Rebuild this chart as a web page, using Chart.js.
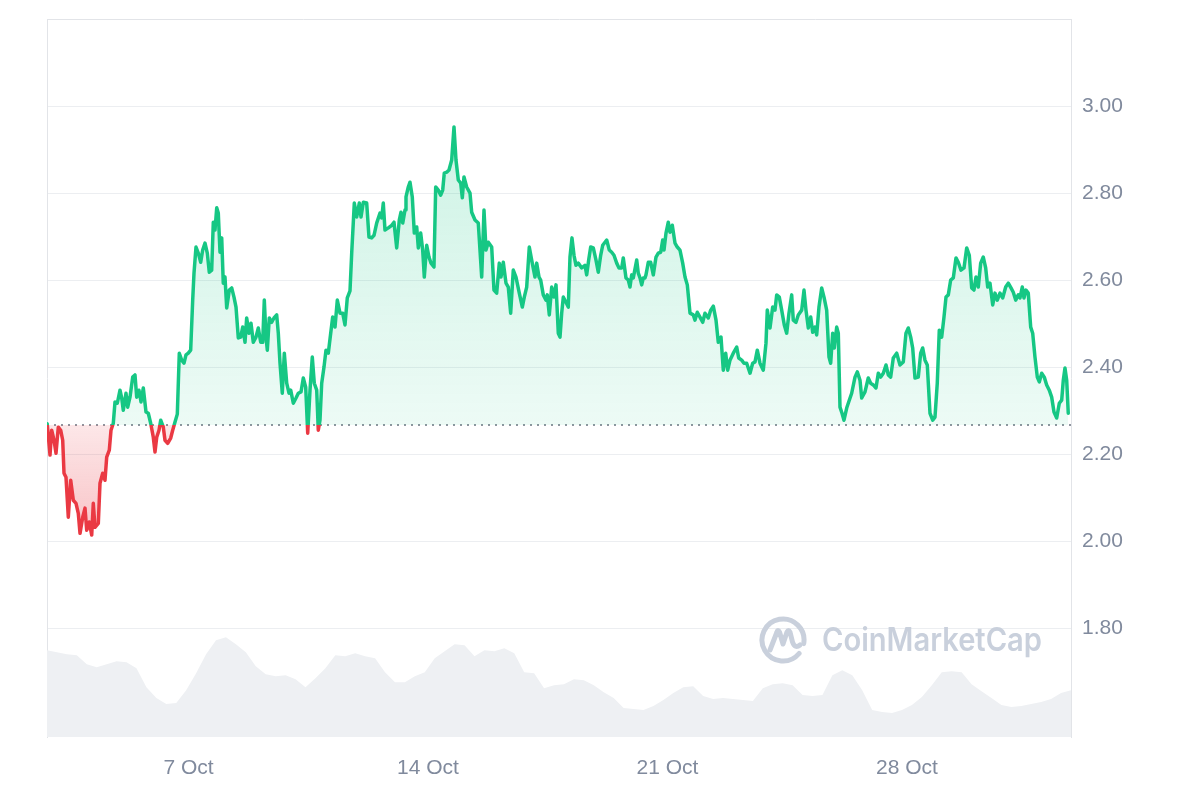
<!DOCTYPE html>
<html>
<head>
<meta charset="utf-8">
<script src="https://cdn.jsdelivr.net/npm/chart.js@4.4.1/dist/chart.umd.min.js"></script>
<style>
html,body{margin:0;padding:0;background:#ffffff;}
#wrap{position:relative;width:1200px;height:800px;overflow:hidden;}
#wm{position:absolute;left:759px;top:615px;height:50px;display:flex;align-items:center;pointer-events:none;}
#wm span{display:inline-block;margin-left:15px;font-family:Inter,"Noto Sans",sans-serif;font-weight:600;font-size:32px;color:#c9d0dc;line-height:1;transform:scaleX(0.91);transform-origin:left center;}
</style>
</head>
<body>
<div id="wrap">
<canvas id="chart" width="1200" height="800"></canvas>
<div id="wm">
<svg width="48" height="50" viewBox="0 0 48 50" fill="none" stroke="#c9d0dc" stroke-width="5" stroke-linecap="round" stroke-linejoin="round">
<path d="M40.1 38.5 A21 21 0 1 1 44.7 28.6"/>
<path d="M11 35 L18 17 Q19 14 20.5 17 L24 29 L28 17 Q29.5 14 31 17 L33.5 27 Q36 34 41 30"/>
</svg>
<span>CoinMarketCap</span>
</div>
</div>
<script>
// ---- data (day of October, price in USD) ----
const X_MIN = 2.864;
const X_MAX = 32.797;
const BASELINE = 2.267;

const tickDays = [7, 14, 21, 28];
const tickLabels = ['7 Oct', '14 Oct', '21 Oct', '28 Oct'];
const yTickValues = [1.8, 2.0, 2.2, 2.4, 2.6, 2.8, 3.0];

const priceDays = [
2.870,2.952,3.001,3.069,3.127,3.194,3.264,3.323,3.361,3.419,
3.487,3.557,3.633,3.712,3.779,3.829,3.908,3.975,4.025,4.100,
4.171,4.217,4.267,4.364,4.413,4.492,4.559,4.609,4.685,4.735,
4.802,4.852,4.919,4.998,5.048,5.094,5.173,5.223,5.290,5.369,
5.436,5.486,5.553,5.612,5.679,5.758,5.825,5.895,5.971,6.021,
6.071,6.138,6.188,6.264,6.313,6.392,6.480,6.538,6.606,6.673,
6.731,6.801,6.869,6.927,6.994,7.064,7.123,7.161,7.219,7.287,
7.357,7.415,7.483,7.550,7.608,7.678,7.725,7.775,7.825,7.871,
7.921,7.971,8.017,8.067,8.117,8.193,8.263,8.330,8.389,8.456,
8.526,8.585,8.652,8.701,8.769,8.827,8.894,8.973,9.041,9.111,
9.169,9.216,9.266,9.304,9.362,9.432,9.499,9.578,9.625,9.675,
9.742,9.801,9.871,9.938,9.988,10.064,10.143,10.210,10.289,10.356,
10.426,10.485,10.552,10.619,10.677,10.748,10.794,10.844,10.894,10.961,
11.019,11.087,11.157,11.215,11.283,11.350,11.429,11.508,11.575,11.642,
11.721,11.771,11.847,11.917,11.993,12.043,12.110,12.209,12.276,12.355,
12.423,12.501,12.598,12.648,12.694,12.744,12.841,12.940,13.007,13.086,
13.162,13.212,13.262,13.329,13.358,13.425,13.475,13.542,13.601,13.671,
13.718,13.788,13.846,13.893,13.963,14.030,14.089,14.176,14.226,14.302,
14.372,14.431,14.477,14.548,14.615,14.694,14.761,14.819,14.887,14.957,
15.004,15.053,15.132,15.229,15.278,15.375,15.471,15.571,15.638,15.696,
15.764,15.863,15.930,16.009,16.085,16.135,16.202,16.281,16.348,16.418,
16.494,16.573,16.670,16.758,16.816,16.886,16.962,17.032,17.129,17.178,
17.246,17.295,17.371,17.450,17.488,17.547,17.617,17.684,17.743,17.810,
17.860,17.909,17.956,18.035,18.102,18.152,18.210,18.269,18.327,18.394,
18.494,18.590,18.640,18.698,18.757,18.833,18.912,18.979,19.049,19.108,
19.175,19.225,19.301,19.371,19.438,19.517,19.584,19.663,19.710,19.789,
19.856,19.906,19.955,20.002,20.102,20.148,20.198,20.248,20.295,20.344,
20.373,20.441,20.511,20.587,20.666,20.733,20.803,20.862,20.900,20.958,
21.025,21.075,21.142,21.221,21.288,21.367,21.446,21.514,21.581,21.660,
21.756,21.806,21.873,21.952,22.031,22.098,22.195,22.265,22.341,22.420,
22.487,22.566,22.633,22.703,22.762,22.829,22.925,23.025,23.083,23.171,
23.238,23.317,23.414,23.492,23.560,23.627,23.706,23.802,23.881,23.919,
23.998,24.077,24.144,24.194,24.270,24.340,24.416,24.486,24.553,24.632,
24.679,24.758,24.825,24.925,24.992,25.050,25.118,25.188,25.246,25.313,
25.363,25.430,25.509,25.577,25.655,25.723,25.772,25.831,25.878,25.948,
25.995,26.044,26.103,26.161,26.240,26.316,26.386,26.483,26.550,26.629,
26.679,26.775,26.871,26.942,27.018,27.096,27.164,27.234,27.310,27.389,
27.456,27.526,27.602,27.702,27.798,27.895,27.973,28.041,28.111,28.169,
28.237,28.333,28.403,28.462,28.529,28.596,28.675,28.754,28.821,28.888,
28.947,29.017,29.084,29.143,29.210,29.280,29.356,29.435,29.502,29.581,
29.669,29.748,29.824,29.894,29.961,30.020,30.087,30.157,30.233,30.303,
30.362,30.429,30.508,30.575,30.642,30.721,30.800,30.888,30.964,31.043,
31.110,31.180,31.256,31.306,31.373,31.423,31.481,31.548,31.619,31.677,
31.744,31.812,31.870,31.940,32.016,32.086,32.162,32.232,32.300,32.379,
32.455,32.525,32.572,32.621,32.671,32.717
];

const prices = [
2.270,2.198,2.255,2.232,2.202,2.262,2.255,2.232,2.156,2.147,
2.055,2.140,2.094,2.087,2.064,2.018,2.055,2.076,2.025,2.044,
2.014,2.087,2.032,2.041,2.133,2.156,2.140,2.193,2.209,2.255,
2.271,2.320,2.317,2.347,2.329,2.301,2.340,2.308,2.331,2.377,
2.382,2.331,2.347,2.320,2.352,2.297,2.294,2.271,2.239,2.205,
2.239,2.255,2.278,2.262,2.232,2.225,2.237,2.255,2.274,2.292,
2.432,2.416,2.409,2.428,2.432,2.439,2.554,2.616,2.676,2.662,
2.641,2.669,2.685,2.662,2.618,2.623,2.733,2.715,2.766,2.754,
2.664,2.697,2.593,2.607,2.536,2.577,2.582,2.561,2.538,2.467,
2.469,2.492,2.457,2.513,2.478,2.501,2.457,2.469,2.490,2.457,
2.457,2.554,2.469,2.439,2.513,2.503,2.513,2.520,2.478,2.409,
2.340,2.432,2.363,2.340,2.347,2.317,2.329,2.340,2.343,2.375,
2.354,2.248,2.347,2.423,2.363,2.347,2.255,2.278,2.363,2.400,
2.439,2.432,2.478,2.515,2.492,2.554,2.524,2.524,2.497,2.559,
2.575,2.662,2.777,2.745,2.777,2.745,2.779,2.777,2.699,2.697,
2.703,2.731,2.754,2.743,2.777,2.715,2.720,2.726,2.733,2.674,
2.738,2.756,2.731,2.761,2.791,2.814,2.825,2.791,2.708,2.722,
2.674,2.708,2.669,2.607,2.680,2.653,2.639,2.630,2.814,2.807,
2.795,2.807,2.846,2.848,2.853,2.876,2.952,2.876,2.830,2.823,
2.789,2.837,2.814,2.800,2.756,2.738,2.731,2.607,2.761,2.669,
2.687,2.676,2.577,2.570,2.639,2.607,2.641,2.593,2.584,2.524,
2.623,2.607,2.570,2.538,2.561,2.584,2.676,2.646,2.607,2.639,
2.607,2.600,2.566,2.554,2.566,2.520,2.584,2.561,2.589,2.478,
2.469,2.524,2.561,2.549,2.538,2.653,2.697,2.657,2.634,2.639,
2.628,2.634,2.612,2.646,2.676,2.674,2.646,2.618,2.657,2.680,
2.687,2.692,2.669,2.664,2.657,2.639,2.628,2.628,2.651,2.605,
2.600,2.584,2.612,2.605,2.646,2.616,2.605,2.589,2.605,2.605,
2.612,2.641,2.641,2.612,2.653,2.662,2.664,2.692,2.669,2.708,
2.733,2.710,2.726,2.685,2.676,2.669,2.639,2.607,2.589,2.524,
2.520,2.508,2.526,2.515,2.503,2.524,2.513,2.531,2.540,2.508,
2.457,2.469,2.393,2.432,2.393,2.416,2.432,2.446,2.421,2.416,
2.409,2.409,2.386,2.409,2.412,2.439,2.409,2.393,2.455,2.531,
2.490,2.538,2.531,2.566,2.561,2.531,2.497,2.478,2.524,2.566,
2.508,2.503,2.520,2.531,2.577,2.531,2.490,2.515,2.480,2.492,
2.474,2.538,2.582,2.561,2.531,2.423,2.409,2.478,2.444,2.492,
2.478,2.308,2.294,2.278,2.306,2.324,2.340,2.377,2.389,2.370,
2.329,2.343,2.375,2.363,2.359,2.352,2.386,2.377,2.386,2.405,
2.382,2.377,2.421,2.432,2.405,2.412,2.478,2.490,2.469,2.444,
2.375,2.377,2.432,2.444,2.416,2.405,2.294,2.278,2.285,2.363,
2.485,2.469,2.515,2.561,2.566,2.600,2.605,2.651,2.641,2.623,
2.628,2.674,2.657,2.582,2.577,2.607,2.584,2.639,2.653,2.628,
2.584,2.593,2.543,2.570,2.554,2.570,2.559,2.584,2.593,2.582,
2.572,2.554,2.566,2.559,2.584,2.559,2.577,2.570,2.492,2.478,
2.423,2.377,2.366,2.386,2.377,2.359,2.347,2.331,2.297,2.283,
2.317,2.324,2.370,2.398,2.370,2.294
];

// 24h volume (relative units), evenly spaced over the window
const volumes = [
87,85,83,82,73,70,73,76,75,69,50,39,33,34,47,64,83,97,100,93,
85,71,63,61,62,58,50,59,69,82,81,84,81,79,65,55,55,61,65,79,
86,93,92,81,87,86,89,84,65,64,49,52,53,58,57,52,45,39,29,28,
27,31,37,44,50,51,41,38,39,38,37,36,49,53,54,52,42,41,42,62,
67,62,47,27,25,24,27,32,40,52,65,66,65,53,46,39,32,30,31,33,
35,38,44,47
];

const GREEN = '#16c784';
const RED = '#ea3943';
const AXIS_TEXT = '#808a9d';
const GRID = '#eceef1';
const FRAME = '#e2e4e8';
const TICK_FONT = { family: '"Liberation Sans", Arial, sans-serif', size: 21 };

const priceData = priceDays.map((d, i) => ({ x: d, y: prices[i] }));
const volStep = (X_MAX - X_MIN) / (volumes.length - 1);
const volumeData = volumes.map((v, i) => ({ x: X_MIN + i * volStep, y: v }));
const minPrice = Math.min(...prices);

function basePx(chart) { return chart.scales.y.getPixelForValue(BASELINE); }

function lineGradient(chart) {
  const { ctx, chartArea } = chart;
  if (!chartArea) return GREEN;
  const b = basePx(chart);
  const f = Math.min(1, Math.max(0, (b - chartArea.top) / (chartArea.bottom - chartArea.top)));
  const g = ctx.createLinearGradient(0, chartArea.top, 0, chartArea.bottom);
  g.addColorStop(0, GREEN); g.addColorStop(f, GREEN);
  g.addColorStop(f, RED); g.addColorStop(1, RED);
  return g;
}
function fillOption(chart) {
  const { ctx, chartArea } = chart;
  if (!chartArea) {
    return { target: { value: BASELINE }, above: 'rgba(22,199,132,0.15)', below: 'rgba(234,57,67,0.2)' };
  }
  const b = basePx(chart);
  const up = ctx.createLinearGradient(0, chartArea.top, 0, b);
  up.addColorStop(0, 'rgba(22,199,132,0.26)');
  up.addColorStop(1, 'rgba(22,199,132,0.08)');
  const low = chart.scales.y.getPixelForValue(minPrice);
  const dn = ctx.createLinearGradient(0, b, 0, low);
  dn.addColorStop(0, 'rgba(234,57,67,0.12)');
  dn.addColorStop(1, 'rgba(234,57,67,0.30)');
  return { target: { value: BASELINE }, above: up, below: dn };
}

new Chart(document.getElementById('chart'), {
  type: 'line',
  data: {
    datasets: [
      {
        label: 'Price',
        data: priceData,
        xAxisID: 'x', yAxisID: 'y',
        borderWidth: 3.5,
        borderColor: (c) => lineGradient(c.chart),
        fill: (c) => fillOption(c.chart),
        pointRadius: 0,
        tension: 0,
        borderJoinStyle: 'round',
        borderCapStyle: 'round',
        order: 1
      },
      {
        label: 'Open',
        data: [{ x: X_MIN, y: BASELINE }, { x: X_MAX, y: BASELINE }],
        xAxisID: 'x', yAxisID: 'y',
        borderColor: '#8f959f',
        borderWidth: 2,
        borderDash: [2, 5],
        pointRadius: 0,
        fill: false,
        order: 2
      },
      {
        label: 'Volume',
        data: volumeData,
        xAxisID: 'x', yAxisID: 'yv',
        borderWidth: 0,
        borderColor: 'rgba(0,0,0,0)',
        backgroundColor: '#eef0f3',
        pointRadius: 0,
        tension: 0,
        fill: 'origin',
        order: 3
      }
    ]
  },
  options: {
    responsive: false,
    animation: false,
    devicePixelRatio: 1,
    events: [],
    layout: { padding: { left: 47, top: 19, right: 0, bottom: 0 } },
    plugins: { legend: { display: false }, tooltip: { enabled: false } },
    scales: {
      x: {
        type: 'linear', position: 'bottom', min: X_MIN, max: X_MAX,
        grid: { display: false, drawTicks: false },
        border: { display: false },
        afterBuildTicks: (s) => { s.ticks = tickDays.map(v => ({ value: v })); },
        afterFit: (s) => { s.height = 63; s.paddingLeft = 0; s.paddingRight = 0; },
        ticks: {
          autoSkip: false, maxRotation: 0, padding: 19,
          color: AXIS_TEXT, font: TICK_FONT,
          callback: (v, i) => tickLabels[i]
        }
      },
      xTop: {
        type: 'linear', position: 'top', min: X_MIN, max: X_MAX,
        grid: { display: false, drawTicks: false },
        border: { display: true, color: FRAME, width: 1 },
        ticks: { display: false },
        afterFit: (s) => { s.height = 0; s.paddingLeft = 0; s.paddingRight = 0; }
      },
      y: {
        position: 'right', min: 1.55, max: 3.2,
        afterBuildTicks: (s) => { s.ticks = yTickValues.map(v => ({ value: v })); },
        afterFit: (s) => { s.width = 129; s.paddingTop = 0; s.paddingBottom = 0; },
        grid: { color: GRID, lineWidth: 1, drawTicks: false },
        border: { display: true, color: FRAME, width: 1 },
        ticks: {
          padding: 11, color: AXIS_TEXT, font: TICK_FONT,
          callback: (v) => Number(v).toFixed(2)
        }
      },
      yLeft: {
        type: 'linear', position: 'left', min: 0, max: 1,
        grid: { display: false, drawTicks: false },
        border: { display: true, color: FRAME, width: 1 },
        ticks: { display: false },
        afterFit: (s) => { s.width = 0; s.paddingTop = 0; s.paddingBottom = 0; }
      },
      yv: {
        type: 'linear', display: false, min: 0, max: 720
      }
    }
  }
});
</script>
</body>
</html>
